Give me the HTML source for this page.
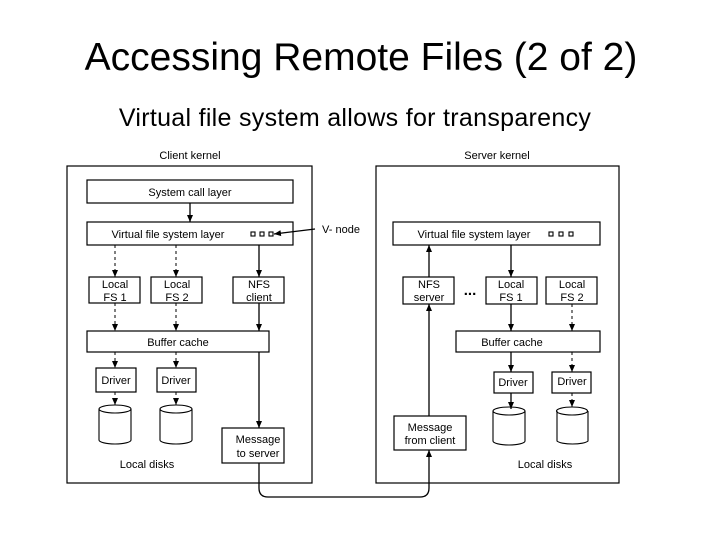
<!DOCTYPE html>
<html><head><meta charset="utf-8"><style>
html,body{margin:0;padding:0;background:#fff;}
body{width:720px;height:540px;position:relative;overflow:hidden;font-family:"Liberation Sans",sans-serif;}
.t{position:absolute;left:0;width:720px;text-align:center;color:#000;}
</style></head><body>
<div class="t" style="top:36px;font-size:39px;letter-spacing:0px;left:1px;">Accessing Remote Files (2 of 2)</div>
<div class="t" style="top:104px;font-size:25px;letter-spacing:0.3px;left:-5px;">Virtual file system allows for transparency</div>
<svg width="720" height="540" style="position:absolute;left:0;top:0" font-family="Liberation Sans, sans-serif" font-size="11">
<defs><marker id="a" markerWidth="8" markerHeight="8" refX="7" refY="4" orient="auto" markerUnits="userSpaceOnUse"><path d="M0,1 L7,4 L0,7z" fill="#000"/></marker></defs>
<g fill="none" stroke="#000" stroke-width="1.2">
<rect x="67" y="166" width="245" height="317"/>
<rect x="376" y="166" width="243" height="317"/>
<rect x="87" y="180" width="206" height="23"/>
<rect x="87" y="222" width="206" height="23"/>
<rect x="89" y="277" width="51" height="26"/>
<rect x="151" y="277" width="51" height="26"/>
<rect x="233" y="277" width="51" height="26"/>
<rect x="87" y="331" width="182" height="21"/>
<rect x="96" y="368" width="40" height="24"/>
<rect x="157" y="368" width="39" height="24"/>
<rect x="222" y="428" width="62" height="35"/>
<rect x="393" y="222" width="207" height="23"/>
<rect x="403" y="277" width="51" height="27"/>
<rect x="486" y="277" width="51" height="27"/>
<rect x="546" y="277" width="51" height="27"/>
<rect x="456" y="331" width="144" height="21"/>
<rect x="494" y="372" width="39" height="21"/>
<rect x="552" y="372" width="39" height="21"/>
<rect x="394" y="416" width="72" height="34"/>
</g>
<g fill="none" stroke="#000" stroke-width="1.1">
<path d="M99,409 v31 a16,4 0 0 0 32,0 v-31"/><ellipse cx="115" cy="409" rx="16" ry="4"/>
<path d="M160,409 v31 a16,4 0 0 0 32,0 v-31"/><ellipse cx="176" cy="409" rx="16" ry="4"/>
<path d="M493,411 v30 a16,4 0 0 0 32,0 v-30"/><ellipse cx="509" cy="411" rx="16" ry="4"/>
<path d="M557,411 v30 a16,4 0 0 0 31,0 v-30"/><ellipse cx="572" cy="411" rx="15.5" ry="4"/>
<rect x="251" y="232" width="4" height="4"/><rect x="260" y="232" width="4" height="4"/><rect x="269" y="232" width="4" height="4"/>
<rect x="549" y="232" width="4" height="4"/><rect x="559" y="232" width="4" height="4"/><rect x="569" y="232" width="4" height="4"/>
</g>
<g stroke="#000" stroke-width="1.3" fill="none" marker-end="url(#a)">
<line x1="190" y1="203" x2="190" y2="222"/>
<line x1="315" y1="229" x2="274" y2="234"/>
<line x1="259" y1="245" x2="259" y2="277"/>
<line x1="259" y1="303" x2="259" y2="331"/>
<line x1="259" y1="352" x2="259" y2="428"/>
<line x1="429" y1="416" x2="429" y2="304"/>
<line x1="429" y1="277" x2="429" y2="245"/>
<line x1="511" y1="245" x2="511" y2="277"/>
<line x1="511" y1="304" x2="511" y2="331"/>
<line x1="511" y1="352" x2="511" y2="372"/>
<line x1="511" y1="393" x2="511" y2="409"/>
<path d="M259,463 V488 Q259,497 268,497 H420 Q429,497 429,488 V450"/>
</g>
<g stroke="#000" stroke-width="1" fill="none" stroke-dasharray="3,3" marker-end="url(#a)">
<line x1="115" y1="245" x2="115" y2="277"/>
<line x1="176" y1="245" x2="176" y2="277"/>
<line x1="115" y1="303" x2="115" y2="331"/>
<line x1="176" y1="303" x2="176" y2="331"/>
<line x1="115" y1="352" x2="115" y2="368"/>
<line x1="176" y1="352" x2="176" y2="368"/>
<line x1="115" y1="392" x2="115" y2="405"/>
<line x1="176" y1="392" x2="176" y2="405"/>
<line x1="572" y1="304" x2="572" y2="331"/>
<line x1="572" y1="352" x2="572" y2="372"/>
<line x1="572" y1="393" x2="572" y2="407"/>
</g>
<g fill="#000" text-anchor="middle">
<text x="190" y="159">Client kernel</text>
<text x="497" y="159">Server kernel</text>
<text x="190" y="196">System call layer</text>
<text x="168" y="238">Virtual file system layer</text>
<text x="474" y="238">Virtual file system layer</text>
<text x="341" y="233">V- node</text>
<text x="115" y="288">Local</text><text x="115" y="301">FS 1</text>
<text x="177" y="288">Local</text><text x="177" y="301">FS 2</text>
<text x="259" y="288">NFS</text><text x="259" y="301">client</text>
<text x="429" y="288">NFS</text><text x="429" y="301">server</text>
<text x="470" y="295" font-weight="bold" font-size="15">...</text>
<text x="511" y="288">Local</text><text x="511" y="301">FS 1</text>
<text x="572" y="288">Local</text><text x="572" y="301">FS 2</text>
<text x="178" y="346">Buffer cache</text>
<text x="512" y="346">Buffer cache</text>
<text x="116" y="384">Driver</text><text x="176" y="384">Driver</text>
<text x="513" y="386">Driver</text><text x="572" y="385">Driver</text>
<text x="258" y="443">Message</text><text x="258" y="457">to server</text>
<text x="430" y="431">Message</text><text x="430" y="444">from client</text>
<text x="147" y="468">Local disks</text>
<text x="545" y="468">Local disks</text>
</g>
</svg>
</body></html>
